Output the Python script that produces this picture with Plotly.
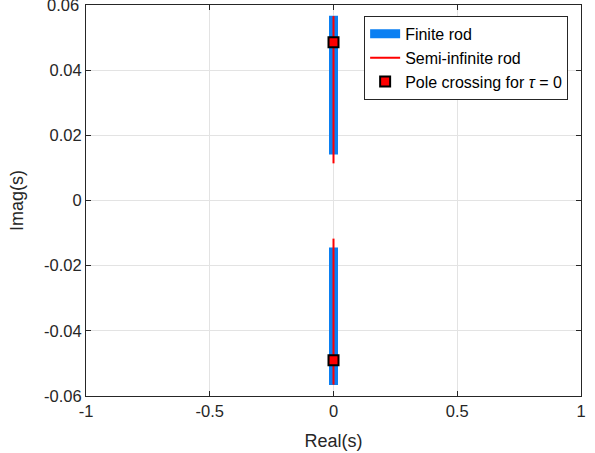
import plotly.graph_objects as go

# Data
finite_real = [0, 0, None, 0, 0]
finite_imag = [0.0567, 0.0141, None, -0.0144, -0.0566]
semi_real = [0, 0, None, 0, 0]
semi_imag = [0.0566, 0.0114, None, -0.0117, -0.0565]
cross_real = [0, 0]
cross_imag = [0.0486, -0.0490]

x_ticks = [-1, -0.5, 0, 0.5, 1]
x_tick_labels = ["-1", "-0.5", "0", "0.5", "1"]
y_ticks = [-0.06, -0.04, -0.02, 0, 0.02, 0.04, 0.06]
y_tick_labels = ["-0.06", "-0.04", "-0.02", "0", "0.02", "0.04", "0.06"]

FONT = "Liberation Sans, Arial, Helvetica, sans-serif"
AX = "#262626"
TICK_SIZE = 16.5

fig = go.Figure()
fig.add_trace(go.Scatter(x=finite_real, y=finite_imag, mode="lines",
                         line=dict(color="#0a7ff2", width=9), name="Finite rod",
                         connectgaps=False))
fig.add_trace(go.Scatter(x=semi_real, y=semi_imag, mode="lines",
                         line=dict(color="#ff0000", width=2), name="Semi-infinite rod",
                         connectgaps=False))
fig.add_trace(go.Scatter(x=cross_real, y=cross_imag, mode="markers",
                         marker=dict(symbol="square", size=10, color="#ff0000",
                                     line=dict(color="black", width=2)),
                         name="Pole crossing for <i>τ</i> = 0"))

axis_common = dict(showgrid=True, gridcolor="#e3e3e3", gridwidth=1,
                   showline=True, linecolor=AX, linewidth=1, mirror="ticks",
                   ticks="inside", ticklen=5, tickcolor=AX, zeroline=False,
                   automargin=False,
                   tickfont=dict(family=FONT, size=TICK_SIZE, color=AX))

fig.update_layout(
    width=595, height=453,
    margin=dict(l=86, r=14, t=5, b=57),
    paper_bgcolor="white", plot_bgcolor="white",
    font=dict(family=FONT, color=AX),
    xaxis=dict(range=[-1, 1], tickvals=x_ticks, ticktext=x_tick_labels,
               title=dict(text="Real(s)", font=dict(family=FONT, size=18, color=AX)),
               **axis_common),
    yaxis=dict(range=[-0.06, 0.06], tickvals=y_ticks, ticktext=y_tick_labels,
               title=dict(text="Imag(s)", font=dict(family=FONT, size=18, color=AX)),
               **axis_common),
    legend=dict(x=0.974, y=0.972, xanchor="right", yanchor="top",
                bgcolor="white", bordercolor=AX, borderwidth=1,
                font=dict(family=FONT, size=16, color="black"),
                tracegroupgap=0, itemwidth=30),
    showlegend=True,
)

# top tick label (partly cut off at the figure edge, as in the reference)
fig.add_annotation(x=0, xref="paper", y=y_ticks[-1], yref="y",
                   text=y_tick_labels[-1], showarrow=False,
                   xanchor="right", yanchor="middle", xshift=-5,
                   font=dict(family=FONT, size=TICK_SIZE, color=AX))

fig.write_html("out.html", config={"displayModeBar": False},
               post_script="document.body.style.margin='0';document.body.style.overflow='hidden';")
